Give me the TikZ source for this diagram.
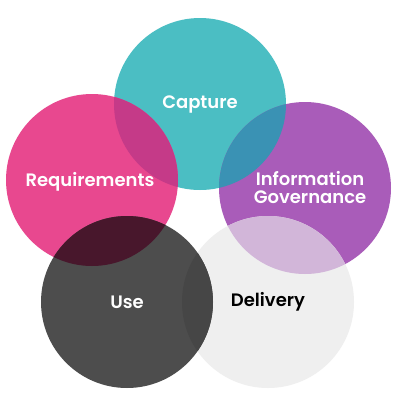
\documentclass[tikz,border=0pt]{standalone}
\usepackage{fontspec}
\setmainfont{Poppins}
\newfontfamily\labfont{Poppins SemiBold}
\definecolor{cteal}{HTML}{4BBEC3}
\definecolor{cpink}{HTML}{E8488F}
\definecolor{cpurple}{HTML}{A95CB9}
\definecolor{cdark}{HTML}{4D4D4D}
\definecolor{clight}{HTML}{EFEFEF}
\definecolor{ctp}{HTML}{C53A88}
\definecolor{ctg}{HTML}{3A92B4}
\definecolor{cpd}{HTML}{D2B6D9}
\definecolor{cud}{HTML}{464646}
\definecolor{cru}{HTML}{48172C}
\tikzset{
  blob/.style={circle, minimum size=172pt, inner sep=0pt, font=\fontsize{18}{18}\labfont, align=center, text=white},
}
\begin{document}
\begin{tikzpicture}[x=1pt,y=-1pt]
\useasboundingbox (0,0) rectangle (400,400);
\fill[white] (0,0) rectangle (400,400);
\coordinate (pc) at (200,104);
\coordinate (pr) at (92,180);
\coordinate (pg) at (305,188);
\coordinate (pu) at (127,302);
\coordinate (pd) at (268,302);
% base circles
\fill[cteal] (pc) circle (86pt);
\fill[cpink] (pr) circle (86pt);
\fill[cpurple] (pg) circle (86pt);
\fill[clight] (pd) circle (86pt);
\fill[cdark] (pu) circle (86pt);
% overlaps
\begin{scope}\clip (pc) circle (86pt); \fill[ctp] (pr) circle (86pt);\end{scope}
\begin{scope}\clip (pc) circle (86pt); \fill[ctg] (pg) circle (86pt);\end{scope}
\begin{scope}\clip (pg) circle (86pt); \fill[cpd] (pd) circle (86pt);\end{scope}
\begin{scope}\clip (pu) circle (86pt); \fill[cud] (pd) circle (86pt);\end{scope}
\begin{scope}\clip (pu) circle (86pt); \fill[cru] (pr) circle (86pt);\end{scope}
% labels
\node[blob] (capture) at (200,105) {Capture};
\node[blob] (req) at (90,182) {Requirements};
\node[blob] (gov) at (310,188) {Information\\Governance};
\node[blob] (use) at (127,302) {Use};
\node[blob, text=black] (del) at (268,302) {Delivery};
\end{tikzpicture}
\end{document}
